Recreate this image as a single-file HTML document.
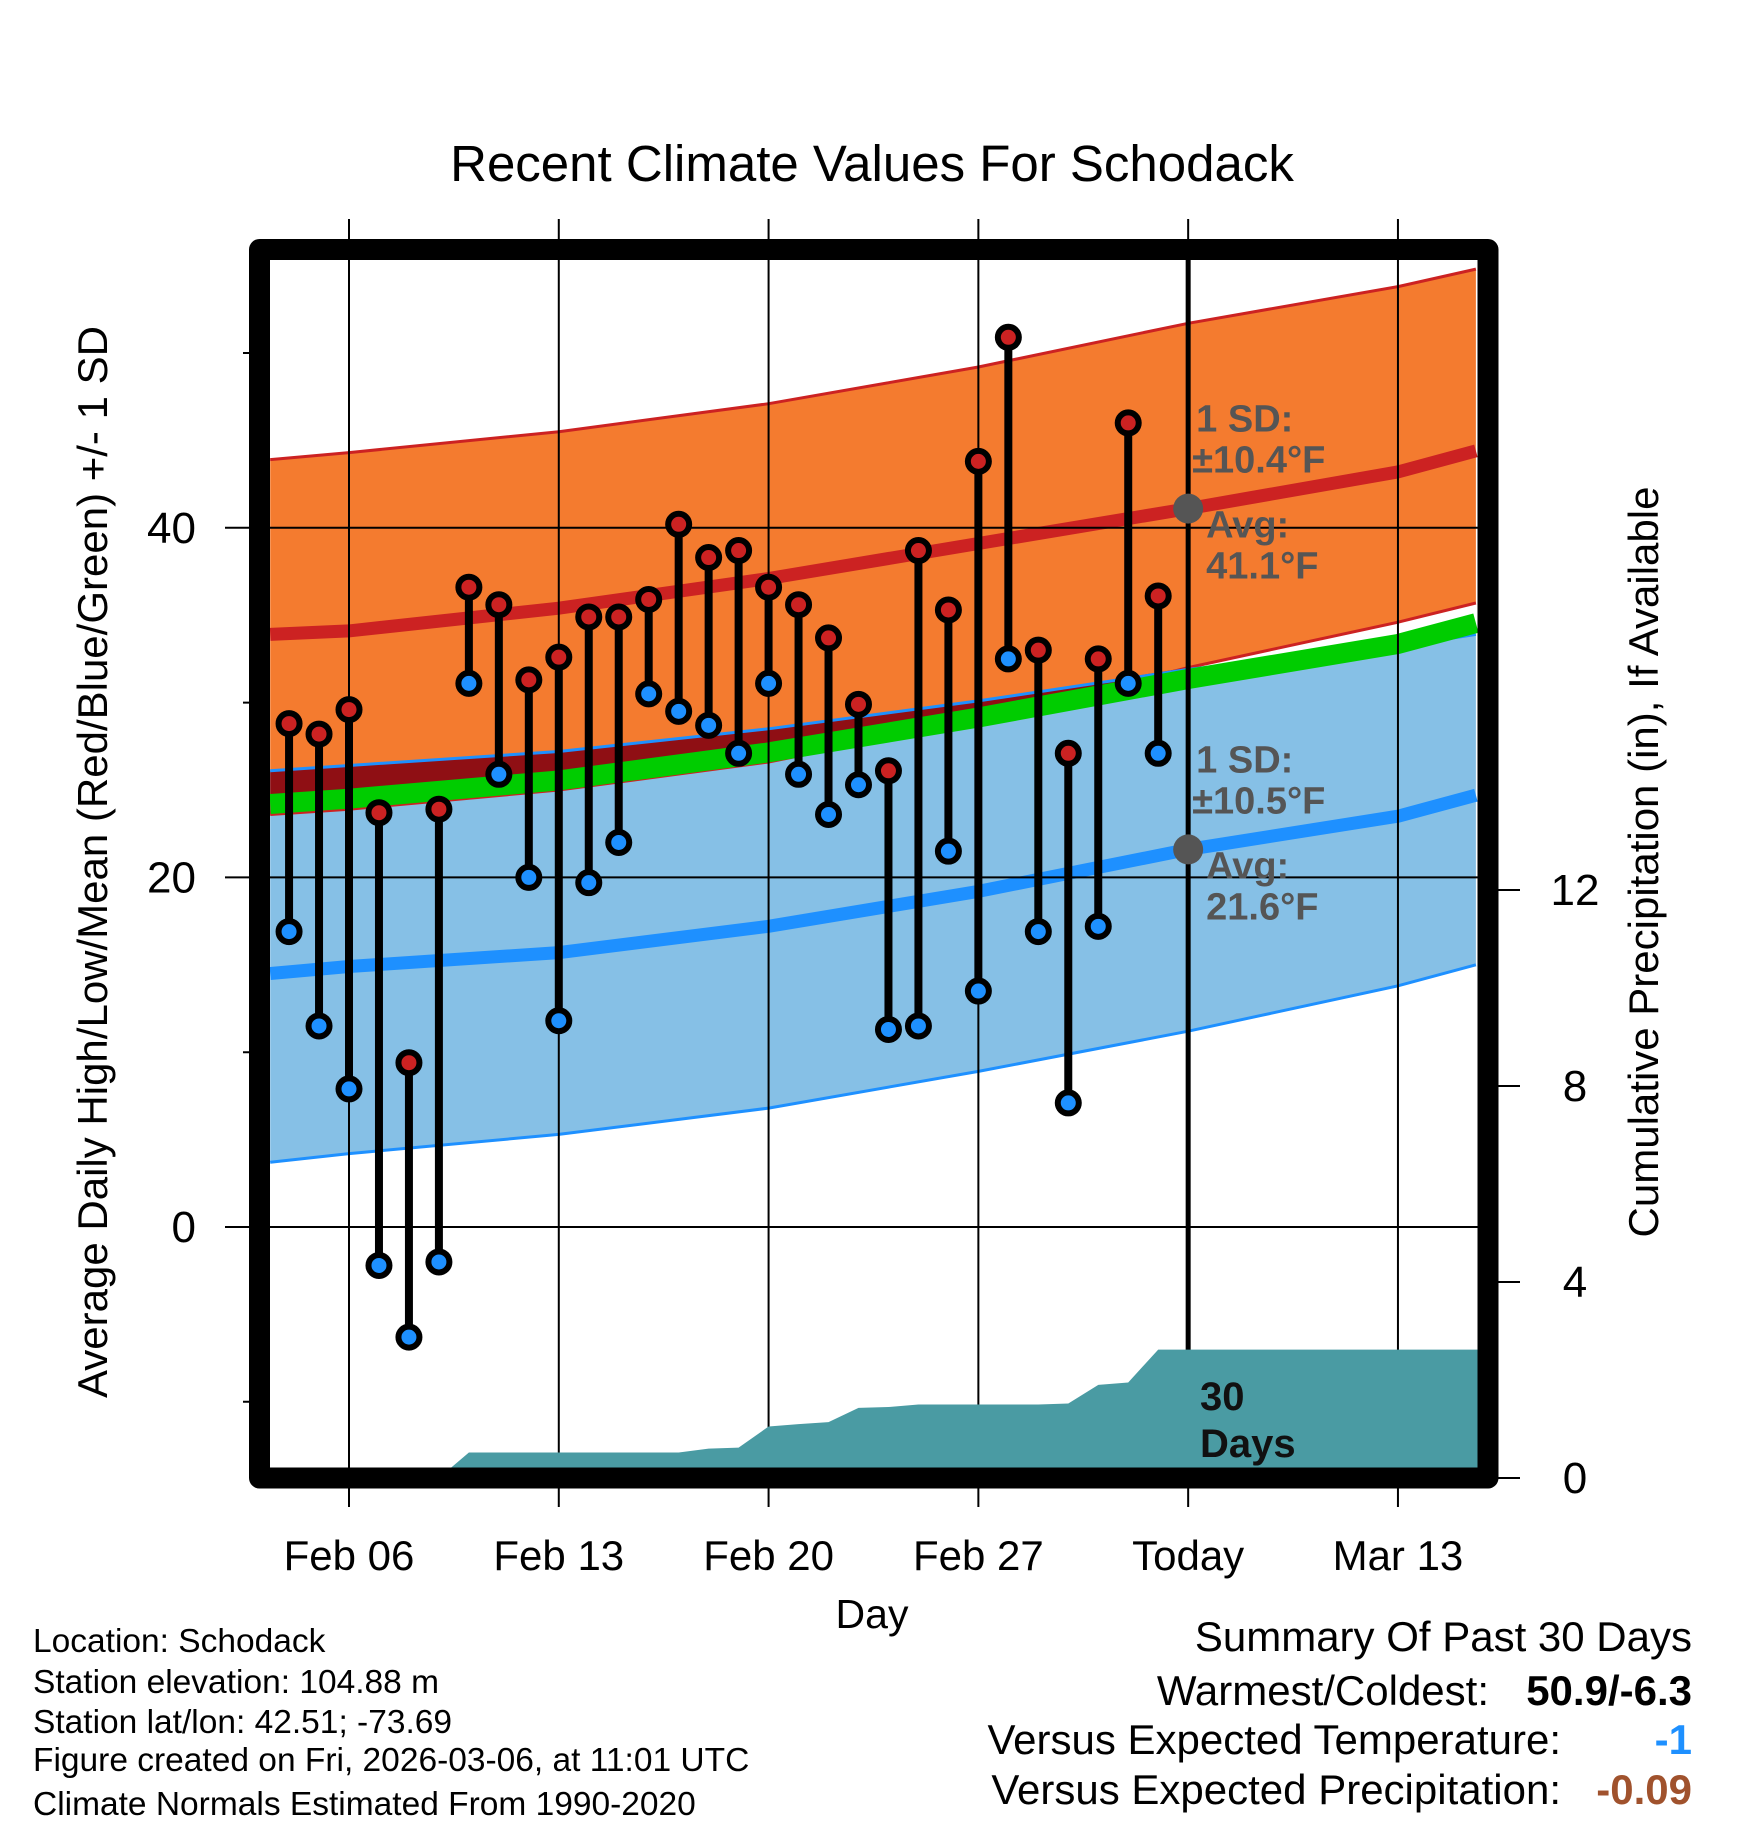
<!DOCTYPE html>
<html><head><meta charset="utf-8"><style>
html,body{margin:0;padding:0;background:#fff}
svg{display:block;font-family:"Liberation Sans",sans-serif}
</style></head><body>
<svg id="chart" width="1748" height="1828" viewBox="0 0 1748 1828" xmlns="http://www.w3.org/2000/svg">
<defs><clipPath id="pc"><rect x="270" y="260" width="1208" height="1208"/></clipPath></defs>
<g id="bands" clip-path="url(#pc)"></g>
<g id="grid"></g>
<g id="precip" clip-path="url(#pc)"></g>
<g id="marks"></g>
<g id="annot"></g>
<rect x="259.5" y="249.5" width="1228.5" height="1228.5" fill="none" stroke="#000" stroke-width="21" stroke-linejoin="round"/>
<g id="axes"></g>
<text x="872" y="181" font-size="51" text-anchor="middle">Recent Climate Values For Schodack</text>
<text x="872" y="1628" font-size="41" text-anchor="middle">Day</text>
<text transform="translate(107,862) rotate(-90)" font-size="42" text-anchor="middle">Average Daily High/Low/Mean (Red/Blue/Green) +/- 1 SD</text>
<text transform="translate(1658,862) rotate(-90)" font-size="42" text-anchor="middle">Cumulative Precipitation (in), If Available</text>
<g font-size="33.5">
<text x="33" y="1652">Location: Schodack</text>
<text x="33" y="1693">Station elevation: 104.88 m</text>
<text x="33" y="1733">Station lat/lon: 42.51; -73.69</text>
<text x="33" y="1771">Figure created on Fri, 2026-03-06, at 11:01 UTC</text>
<text x="33" y="1815">Climate Normals Estimated From 1990-2020</text>
</g>
<g font-size="42">
<text x="1692" y="1651" text-anchor="end">Summary Of Past 30 Days</text>
<text x="1489" y="1705" text-anchor="end">Warmest/Coldest:</text>
<text x="1692" y="1705" text-anchor="end" font-weight="bold">50.9/-6.3</text>
<text x="1561" y="1754" text-anchor="end">Versus Expected Temperature:</text>
<text x="1692" y="1754" text-anchor="end" font-weight="bold" fill="#1E90FF">-1</text>
<text x="1561" y="1804" text-anchor="end">Versus Expected Precipitation:</text>
<text x="1692" y="1804" text-anchor="end" font-weight="bold" fill="#A0522D">-0.09</text>
</g>
</svg>
<script>
// Days are offsets from Feb 06
const normDays = [-2.63, 0, 7, 14, 21, 28, 35, 37.6];
const avgHigh = [33.9, 34.1, 35.4, 37.1, 39.1, 41.1, 43.2, 44.4];
const hiUpper = [43.9, 44.3, 45.5, 47.1, 49.2, 51.7, 53.8, 54.8];
const hiLower = [23.6, 23.9, 25.0, 26.6, 29.0, 32.0, 34.6, 35.7];
const avgLow = [14.5, 14.9, 15.7, 17.2, 19.2, 21.6, 23.5, 24.7];
const loUpper = [26.1, 26.4, 27.2, 28.5, 30.1, 31.9, 33.2, 33.9];
const loLower = [3.7, 4.2, 5.3, 6.8, 8.9, 11.2, 13.8, 15.0];
const firstDay = -2; // Feb 04
const highs = [28.8,28.2,29.6,23.7,9.4,23.9,36.6,35.6,31.3,32.6,34.9,34.9,35.9,40.2,38.3,38.7,36.6,35.6,33.7,29.9,26.1,38.7,35.3,43.8,50.9,33.0,27.1,32.5,46.0,36.1];
const lows = [16.9,11.5,7.9,-2.2,-6.3,-2.0,31.1,25.9,20.0,11.8,19.7,22.0,30.5,29.5,28.7,27.1,31.1,25.9,23.6,25.3,11.3,11.5,21.5,13.5,32.5,16.9,7.1,17.2,31.1,27.1];
const precip = [0,0,0,0,0,0,0.52,0.52,0.52,0.52,0.52,0.52,0.52,0.52,0.6,0.62,1.05,1.1,1.14,1.43,1.45,1.5,1.5,1.5,1.5,1.5,1.52,1.9,1.95,2.62];
const xTickDays = [0, 7, 14, 21, 28, 35];
const xTickLabels = ["Feb 06","Feb 13","Feb 20","Feb 27","Today","Mar 13"];
const yTicks = [0, 20, 40];
const yMinor = [-10, 10, 30, 50];
const y2Ticks = [0, 4, 8, 12];
const todayDay = 28;

const NS = "http://www.w3.org/2000/svg";
const X = d => 349 + d * 29.97;
const Y = t => 1227 - 17.48 * t;
const Y2 = p => 1478 - 49 * p;
const XL = 270, XR = 1478;
function mk(tag, attrs, parent){const e=document.createElementNS(NS,tag);for(const k in attrs)e.setAttribute(k,attrs[k]);parent.appendChild(e);return e;}
const line = arr => normDays.map((d,i)=>X(d).toFixed(1)+","+Y(arr[i]).toFixed(1));
const band = (a,b) => line(a).concat(line(b).reverse()).join(" ");
const bands = document.getElementById("bands");
let e;
e = mk("polygon",{points:band(hiUpper,hiLower),fill:"#F47B2F"},bands);


e = mk("polygon",{points:band(loUpper,loLower),fill:"#86C0E6"},bands);


const ovTop = loUpper.map((v,i)=>Math.max(v,hiLower[i]));
e = mk("polygon",{points:band(ovTop,hiLower),fill:"#8F0F14"},bands);


e = mk("polyline",{points:line(hiUpper).join(" "),fill:"none",stroke:"#CC2222","stroke-width":3},bands);


e = mk("polyline",{points:line(hiLower).join(" "),fill:"none",stroke:"#CC2222","stroke-width":3},bands);


e = mk("polyline",{points:line(loUpper).join(" "),fill:"none",stroke:"#1E90FF","stroke-width":3},bands);


e = mk("polyline",{points:line(loLower).join(" "),fill:"none",stroke:"#1E90FF","stroke-width":3},bands);


const mean = avgHigh.map((v,i)=>(v+avgLow[i])/2);
e = mk("polyline",{points:line(mean).join(" "),fill:"none",stroke:"#00CC00","stroke-width":20},bands);


e = mk("polyline",{points:line(avgHigh).join(" "),fill:"none",stroke:"#CC2222","stroke-width":13},bands);


e = mk("polyline",{points:line(avgLow).join(" "),fill:"none",stroke:"#1E90FF","stroke-width":13},bands);



const grid = document.getElementById("grid");
const axes = document.getElementById("axes");
xTickDays.forEach((d,i)=>{
  const g = mk("line",{x1:X(d),x2:X(d),y1:219,y2:1507,stroke:"#000","stroke-width":2},grid);
  
  
  const t = mk("text",{x:X(d),y:1570,"font-size":42,"text-anchor":"middle"},axes);
  t.textContent = xTickLabels[i];
  
  
});
yTicks.forEach(v=>{
  const g = mk("line",{x1:225,x2:XR,y1:Y(v),y2:Y(v),stroke:"#000","stroke-width":2},grid);
  
  
  const t = mk("text",{x:196,y:Y(v)+15,"font-size":44,"text-anchor":"end"},axes);
  t.textContent = v;
  
  
});
yMinor.forEach(v=>{
  const g = mk("line",{x1:243,x2:262,y1:Y(v),y2:Y(v),stroke:"#000","stroke-width":2},axes);
  
  
});
y2Ticks.forEach(v=>{
  const g = mk("line",{x1:1488,x2:1520,y1:Y2(v),y2:Y2(v),stroke:"#000","stroke-width":2},axes);
  
  
  const t = mk("text",{x:1575,y:Y2(v)+15,"font-size":44,"text-anchor":"middle"},axes);
  t.textContent = v;
  
  
});

// precipitation
const pg = document.getElementById("precip");
let pts = [XL+","+Y2(0), XL+","+Y2(precip[0])];
precip.forEach((p,i)=>pts.push(X(firstDay+i).toFixed(1)+","+Y2(p).toFixed(1)));
pts.push(XR+","+Y2(precip[precip.length-1]), XR+","+Y2(0));
e = mk("polygon",{points:pts.join(" "),fill:"#4A9BA3"},pg);



// today line
e = mk("line",{x1:X(todayDay),x2:X(todayDay),y1:260,y2:1468,stroke:"#000","stroke-width":5},grid);



// daily marks
const mg = document.getElementById("marks");
highs.forEach((h,i)=>{
  const x = X(firstDay+i);
  const s = mk("line",{x1:x,x2:x,y1:Y(h),y2:Y(lows[i]),stroke:"#000","stroke-width":8},mg);
  
  
  const c1 = mk("circle",{cx:x,cy:Y(h),r:10.5,fill:"#CC2222",stroke:"#000","stroke-width":6},mg);
  
  
  const c2 = mk("circle",{cx:x,cy:Y(lows[i]),r:10.5,fill:"#1E90FF",stroke:"#000","stroke-width":6},mg);
  
  
});

// annotations
const ag = document.getElementById("annot");
const hiNow = avgHigh[normDays.indexOf(todayDay)], loNow = avgLow[normDays.indexOf(todayDay)];
[[hiNow,"±10.4°F","high"],[loNow,"±10.5°F","low"]].forEach(([v,sd,n])=>{
  const y = Y(v), x = X(todayDay);
  const c = mk("circle",{cx:x,cy:y,r:15,fill:"#555"},ag);
  
  
  const lines = [["1 SD:",x+8,y-77],[sd,x+4,y-36],["Avg:",x+18,y+29],[v.toFixed(1)+"°F",x+18,y+70]];
  lines.forEach(([s,tx,ty])=>{
    const t = mk("text",{x:tx,y:ty,"font-size":38,"font-weight":"bold",fill:"#555"},ag);
    t.textContent = s;
    
    
  });
});
[["30",1410],["Days",1457]].forEach(([s,y])=>{
  const t = mk("text",{x:1200,y:y,"font-size":40,"font-weight":"bold",fill:"#111"},ag);
  t.textContent = s;
  
  
});
</script>
</body></html>
